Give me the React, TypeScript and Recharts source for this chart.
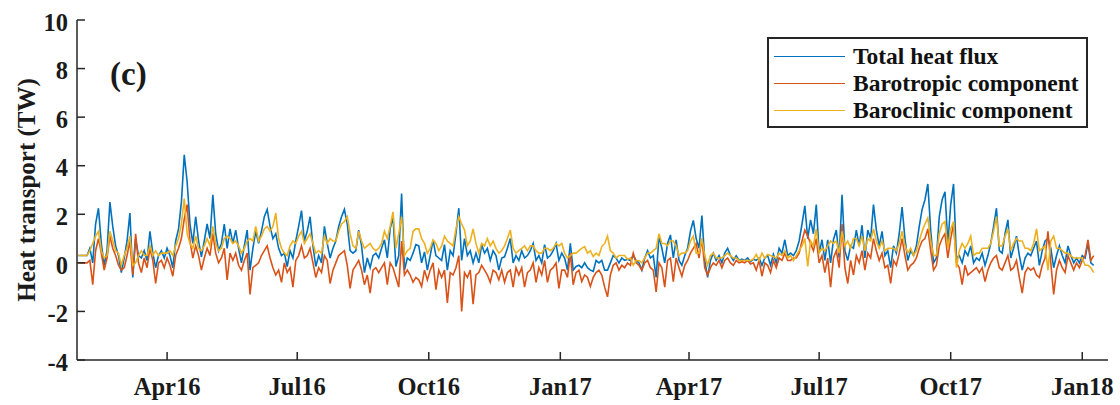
import React from 'react';
import { LineChart, Line, XAxis, YAxis } from 'recharts';

// Day numbers are counted from 1 Apr 2016; samples every 2 days starting 30 Jan 2016
const START_DAY = -62;
const STEP_DAYS = 2;

const totalHeatFlux = [
  0.3, 0.3, 0.3, 0.3, 0.6, 0.0, 1.6, 2.25, 0.8, -0.1,
  0.5, 2.5, 1.5, 0.7, 0.3, -0.4, 0.2, 0.9, 2.05, -0.6,
  1.0, 0.3, 0.2, 0.5, 0.1, 1.3, 0.4, -0.2, 0.3, 0.5,
  0.2, 0.6, 0.3, -0.2, 0.9, 1.4, 2.5, 4.45, 3.35, 1.6,
  0.8, 1.9, 0.9, 0.25, 0.9, 1.6, 1.0, 2.8, 1.2, 0.5,
  0.8, 1.6, 0.6, 1.4, 0.8, 1.35, 0.6, 0.0, 0.7, 1.35,
  -0.3, 0.6, 1.3, 0.8, 1.3, 1.9, 2.2, 1.5, 1.0, 1.2,
  0.6, 0.3, 0.4, -0.15, 0.5, 0.2, 0.9, 1.5, 2.15, 0.9,
  1.3, 1.9, 0.7, -0.15, 0.3, 0.0, 1.5, 0.8, 0.2, 0.6,
  0.9, 1.5, 1.9, 2.2, 1.6, 0.5, 0.4, 0.5, 1.35, 0.7,
  -0.4, 0.2, -0.2, 0.3, 0.4, 0.2, 0.6, 0.95, 0.2, 1.4,
  1.9, -0.15, 0.3, 2.85, -0.3, 0.2, 0.1, 0.4, 0.75, 0.7,
  0.0, 0.45, -0.3, 0.3, 0.95, 0.3, 0.2, 0.1, 0.75, -0.3,
  0.5, 0.3, 1.2, 2.25, 0.1, 1.0, 0.3, 0.5, 0.0, 0.4,
  0.0, 0.75, 0.4, 0.6, 0.1, 0.5, 0.3, -0.3, 0.2, 0.25,
  0.6, 1.0, 0.0, 0.3, 0.1, 0.5, 0.2, 0.3, 0.5, 0.8,
  0.1, 0.3, 0.0, 0.75, 0.2, 0.3, 0.5, 0.8, 0.1, 0.4,
  0.2, -0.3, 0.8, -0.3, -0.15, -0.1, -0.2, 0.0, -0.2, -0.3,
  -0.35, 0.1, 0.0, 0.1, -0.3, -0.3, 0.0, 0.3, 0.2, 0.0,
  0.2, 0.1, 0.15, 0.1, 0.3, 0.1, 0.0, -0.3, 0.2, 0.5,
  0.2, 0.3, -0.6, 1.1, 0.6, 0.0, 0.8, 1.15, 0.2, 0.95,
  0.1, -0.1, 0.3, 0.6, 1.3, 1.75, 1.0, 0.6, 1.95, 0.1,
  -0.6, 0.1, 0.4, 0.1, 0.3, 0.0, 0.4, 0.6, 0.3, 0.1,
  0.29, 0.1, 0.15, 0.1, 0.2, 0.05, 0.15, 0.1, 0.2, -0.1,
  0.2, 0.3, -0.1, 0.35, 0.0, 0.6, 0.4, 0.95, 0.3, 0.4,
  0.3, 0.5, 0.9, 1.6, 2.35, 1.0, 1.77, 1.2, 2.4, 0.4,
  0.95, 0.1, 0.95, 0.0, 0.95, 1.35, 0.2, 2.8, 0.5, 0.1,
  0.7, 0.6, 1.35, 0.7, 1.55, 0.2, 1.35, 1.0, 2.4, 1.35,
  0.7, 1.3, 0.3, 0.5, -0.2, 0.7, 0.4, 1.2, 2.3, 1.0,
  0.1, 0.5, 0.3, 0.7, 1.5, 2.2, 2.6, 3.25, 1.35, 0.0,
  0.2, 1.9, 2.6, 2.93, 0.8, 2.4, 3.25, 0.2, 0.3, 0.0,
  0.5, 0.3, 0.7, 0.0, 0.2, 0.1, 0.4, -0.1, 0.3, 0.8,
  1.5, 2.25, 0.5, 0.4, 1.2, 1.77, 0.2, 0.6, 1.1, 0.3,
  -0.3, 0.2, 0.4, 0.3, 0.6, 0.9, -0.1, 0.5, 0.9, 1.0,
  0.6, -0.2, 0.3, 0.7, 0.3, 0.0, 0.7, 0.3, 0.0, 0.2,
  0.0, 0.3, 0.2, 0.8, 0.0, -0.1,
];

const barotropic = [
  0.0, 0.0, 0.0, 0.0, 0.1, -0.9, 0.5, 1.0, 0.4, -0.3,
  0.2, 1.1, 0.6, 0.3, -0.1, -0.3, -0.2, 0.3, 0.9, -0.5,
  1.2, 0.0, -0.4, 0.2, -0.2, 0.6, 0.1, -0.85, 0.0, 0.1,
  -0.2, 0.2, -0.1, -0.55, 0.3, 0.6, 1.0, 1.8, 2.4, 0.9,
  0.2, 0.7, 0.3, -0.3, 0.2, 0.6, 0.3, 1.2, 0.4, 0.0,
  0.2, 0.6, -0.7, 0.4, 0.1, 0.4, -0.1, -0.3, 0.1, 0.4,
  -1.3, -0.2, -0.1, 0.0, 0.3, 0.5, 0.7, 0.2, -0.2, -0.5,
  -0.3, -0.8, 0.0, -0.4, -0.2, -1.0, 0.1, 0.3, 0.7, 0.2,
  0.3, 0.6, 0.0, -0.6, -0.2, -0.4, 0.3, 0.1, -0.85, -0.3,
  0.0, 0.3, 0.4, 0.5, -0.1, -1.05, -0.3, -0.1, 0.1, -0.3,
  -0.9, -0.5, -1.25, -0.3, -0.2, -0.4, -0.2, 0.0, -0.9, 0.0,
  -0.2, -0.6, -1.0, 0.9, -0.5, -0.3, -0.5, -0.8, -0.6, -0.7,
  -0.97, -0.3, -0.7, -0.3, 0.0, -1.1, -0.3, -0.6, -0.3, -1.65,
  -0.4, -0.5, -0.2, 0.3, -2.0, -0.4, -0.6, -0.3, -1.7, -0.5,
  -0.4, -0.1, -0.3, -0.5, -0.8, -0.3, -0.4, -0.7, -0.3, -0.8,
  -0.4, -0.3, -1.0, -0.2, -0.5, -0.2, -1.0, -0.4, -0.3, 0.0,
  -0.8, -0.2, -0.5, 0.1, -0.8, -0.3, -0.2, 0.0, -1.05, -0.3,
  -0.3, -0.6, 0.4, -0.9, -0.4, -0.3, -0.77, -0.5, -0.6, -0.97,
  -0.6, -0.4, -0.3, -0.5, -1.0, -1.4, -0.5, -0.1, 0.0, -0.3,
  -0.1, -0.2, 0.0, -0.1, 0.4, 0.0, -0.1, -0.3, 0.0, 0.1,
  -0.2, -0.3, -1.2, 0.0, -0.2, -1.0, 0.1, 0.2, -0.77, 0.2,
  -0.2, -0.55, -0.1, 0.1, 0.4, 0.6, 0.8, 0.2, 1.0, -0.2,
  -0.5, -0.2, 0.0, -0.1, 0.1, -0.2, 0.1, 0.2, 0.0, -0.1,
  0.1, 0.0, 0.05, 0.0, 0.1, -0.05, 0.0, -0.3, 0.1, -0.55,
  0.0, -0.1, -0.4, 0.1, -0.2, 0.2, 0.1, 0.4, 0.1, 0.1,
  0.2, 0.2, 0.4, 0.9, 1.35, 1.1, 0.8, 0.5, 1.0, 0.0,
  0.3, -0.4, 0.2, -1.0, 0.2, 0.5, -0.2, 1.6, -0.2, -0.85,
  0.1, -0.5, 0.3, 0.0, 0.5, -0.3, 0.4, 0.2, 1.0, 0.5,
  0.1, 0.4, -0.2, -0.1, -0.85, 0.1, -0.1, 0.4, 1.0, 0.3,
  -0.3, -0.1, 0.0, 0.2, 0.6, 0.9, 1.0, 1.4, 0.5, -0.3,
  -0.1, 0.7, 1.0, 1.2, 0.2, 1.0, 1.6, 0.0, -0.2, -0.9,
  -0.1, -0.5, -0.4, -0.3, -0.2, -0.4, -0.2, -0.77, -0.3, 0.0,
  0.2, 0.3, -0.2, -0.3, 0.0, 0.3, -0.3, -0.2, 0.1, -0.6,
  -1.25, -0.4, -0.2, -0.3, -0.2, -0.5, -0.6, -0.1, 0.2, 1.3,
  0.0, -1.3, -0.3, 0.1, -0.2, -0.4, 0.3, 0.0, -0.3, 0.0,
  -0.2, 0.1, 0.3, 0.95, 0.1, 0.3,
];

const baroclinic = [
  0.3, 0.3, 0.3, 0.3, 0.5, 0.8, 1.1, 1.3, 0.5, 0.2,
  0.3, 1.3, 0.9, 0.5, 0.4, -0.1, 0.3, 0.6, 1.1, -0.1,
  0.0, 0.3, 0.5, 0.3, 0.3, 0.7, 0.3, 0.5, 0.3, 0.4,
  0.4, 0.4, 0.5, 0.3, 0.7, 1.0, 1.6, 2.65, 1.2, 0.8,
  0.6, 1.1, 0.6, 0.5, 0.7, 1.0, 0.7, 1.5, 0.8, 0.5,
  0.6, 1.0, 1.1, 1.0, 0.8, 0.9, 0.7, 0.4, 0.6, 0.9,
  1.0, 0.9, 1.5, 0.9, 1.1, 1.4, 1.5, 1.3, 1.5, 2.05,
  1.0, 0.6, 0.4, 0.3, 0.7, 0.9, 0.8, 1.1, 1.3, 0.8,
  1.0, 1.2, 0.8, 0.4, 0.5, 0.4, 1.1, 0.8, 1.0, 0.9,
  0.9, 1.3, 1.6, 1.7, 1.9, 1.2, 0.7, 0.6, 1.3, 0.9,
  0.6, 0.7, 0.8, 0.6, 0.5, 0.6, 0.8, 1.3, 1.0, 1.5,
  2.1, 0.6, 1.2, 1.9, 0.3, 0.5, 0.6, 1.3, 1.4, 1.4,
  1.0, 0.8, 0.4, 0.6, 0.95, 0.8, 0.5, 0.7, 1.1, 0.9,
  0.8, 0.7, 1.4, 1.9, 1.6, 1.35, 0.7, 0.9, 1.4, 0.8,
  0.4, 0.8, 0.7, 1.0, 0.7, 0.9, 0.6, 0.4, 0.5, 0.7,
  1.0, 1.35, 0.6, 0.4, 0.5, 0.6, 0.7, 0.5, 0.7, 0.7,
  0.5, 0.4, 0.4, 0.6, 0.6, 0.5, 0.6, 0.8, 0.7, 0.8,
  0.4, 0.2, 0.3, 0.4, 0.4, 0.5, 0.6, 0.67, 0.4, 0.5,
  0.26, 0.4, 0.3, 0.67, 0.8, 1.1, 0.5, 0.4, 0.2, 0.3,
  0.3, 0.3, 0.15, 0.2, -0.1, 0.1, 0.1, 0.0, 0.2, 0.4,
  0.4, 0.5, 0.6, 1.2, 0.8, 0.8, 0.7, 0.9, 0.9, 0.7,
  0.3, 0.4, 0.4, 0.5, 0.9, 1.1, 0.4, 0.4, 1.0, 0.3,
  -0.1, 0.3, 0.4, 0.2, 0.2, 0.2, 0.3, 0.4, 0.3, 0.2,
  0.2, 0.1, 0.1, 0.1, 0.1, 0.1, 0.15, 0.35, 0.1, 0.4,
  0.2, 0.35, 0.3, 0.25, 0.2, 0.4, 0.3, 0.5, 0.2, 0.3,
  0.1, 0.3, 0.5, 0.7, 1.0, -0.15, 0.9, 0.7, 1.4, 0.4,
  0.6, 0.5, 0.7, 0.9, 0.8, 0.9, 0.4, 1.3, 0.7, 0.9,
  0.6, 1.0, 1.0, 0.7, 1.1, 0.5, 1.0, 0.9, 1.4, 0.9,
  0.6, 0.9, 0.5, 0.6, 0.6, 0.6, 0.5, 0.8, 1.3, 0.7,
  0.4, 0.6, 0.3, 0.5, 0.9, 1.3, 1.6, 1.85, 0.9, 0.3,
  0.3, 1.2, 1.6, 1.7, 0.6, 1.4, 1.7, -0.2, 0.5, 0.8,
  0.6, 0.8, 1.1, 0.3, 0.4, 0.4, 0.6, 0.6, 0.6, 0.8,
  1.3, 1.9, 0.7, 0.7, 1.1, 1.4, 0.5, 0.8, 1.0, 0.9,
  0.9, 0.6, 0.6, 0.5, 0.8, 1.4, 0.5, 0.6, 0.7, -0.3,
  0.9, 1.1, 0.6, 0.6, 0.5, 0.4, 0.4, 0.3, 0.2, 0.2,
  0.2, 0.2, -0.1, -0.1, -0.2, -0.4,
];

const tickDays = [0, 91, 183, 275, 365, 456, 548, 640];
const tickLabels = ['Apr16', 'Jul16', 'Oct16', 'Jan17', 'Apr17', 'Jul17', 'Oct17', 'Jan18'];
const yTicks = [-4, -2, 0, 2, 4, 6, 8, 10];
const xDomain = [-63, 658];
const yDomain = [-4, 10];

const seriesKeys = ['total', 'barotropic', 'baroclinic'];
const seriesNames = ['Total heat flux', 'Barotropic component', 'Baroclinic component'];
const seriesColors = ['#0072BD', '#D95319', '#EDB120'];

const data = totalHeatFlux.map((v, i) => ({
  day: START_DAY + STEP_DAYS * i,
  total: v,
  barotropic: barotropic[i],
  baroclinic: baroclinic[i],
}));

const FONT = '"Liberation Serif", "Times New Roman", serif';
const AXIS = '#262626';

const fmtX = (v: number) => {
  const idx = tickDays.indexOf(v);
  return idx >= 0 ? tickLabels[idx] : '';
};
const blank = () => '';

export default function App() {
  const tickStyle = { fill: '#1a1a1a', fontSize: 24.5, fontWeight: 'bold', fontFamily: FONT };
  const lineStyle = { stroke: AXIS, strokeWidth: 1.5 };
  return (
    <div style={{ position: 'absolute', left: 0, top: 0, width: 1120, height: 405, background: '#fff' }}>
      <LineChart width={1120} height={405} data={data} margin={{ top: 20, right: 12, bottom: 0, left: 17 }}>
        <XAxis
          xAxisId="b"
          dataKey="day"
          type="number"
          domain={xDomain}
          allowDataOverflow
          ticks={tickDays}
          interval={0}
          tickFormatter={fmtX}
          height={45}
          tickSize={-8}
          tickMargin={26}
          axisLine={lineStyle}
          tickLine={lineStyle}
          tick={tickStyle}
        />
        <XAxis
          xAxisId="t"
          orientation="top"
          dataKey="day"
          type="number"
          domain={xDomain}
          allowDataOverflow
          ticks={tickDays}
          interval={0}
          tickFormatter={blank}
          height={0}
          tickSize={-8}
          axisLine={lineStyle}
          tickLine={lineStyle}
        />
        <YAxis
          yAxisId="l"
          type="number"
          domain={yDomain}
          allowDataOverflow
          ticks={yTicks}
          interval={0}
          width={60}
          tickSize={-8}
          tickMargin={17}
          axisLine={lineStyle}
          tickLine={lineStyle}
          tick={{ ...tickStyle, dy: 2 }}
        />
        <YAxis
          yAxisId="r"
          orientation="right"
          type="number"
          domain={yDomain}
          allowDataOverflow
          ticks={yTicks}
          interval={0}
          width={0}
          tickSize={-8}
          tickFormatter={blank}
          axisLine={lineStyle}
          tickLine={lineStyle}
        />
        {seriesKeys.map((k, i) => (
          <Line
            key={k}
            xAxisId="b"
            yAxisId="l"
            type="linear"
            dataKey={k}
            name={seriesNames[i]}
            stroke={seriesColors[i]}
            strokeWidth={1.6}
            dot={false}
            activeDot={false}
            isAnimationActive={false}
          />
        ))}
      </LineChart>

      <div
        style={{
          position: 'absolute',
          left: 26,
          top: 190,
          transform: 'translate(-50%, -50%) rotate(-90deg)',
          whiteSpace: 'nowrap',
          fontFamily: FONT,
          fontWeight: 'bold',
          fontSize: 25,
          color: '#1a1a1a',
          lineHeight: 1,
        }}
      >
        Heat transport (TW)
      </div>

      <div
        style={{
          position: 'absolute',
          left: 110,
          top: 58,
          fontFamily: FONT,
          fontWeight: 'bold',
          fontSize: 33,
          color: '#1a1a1a',
          lineHeight: 1,
        }}
      >
        (c)
      </div>

      <div
        style={{
          position: 'absolute',
          left: 767,
          top: 37,
          width: 321,
          height: 91,
          boxSizing: 'border-box',
          border: `2px solid ${AXIS}`,
          background: '#fff',
        }}
      >
        {seriesNames.map((n, i) => (
          <div
            key={n}
            style={{
              position: 'absolute',
              left: 5,
              top: 4 + i * 27,
              height: 27,
              display: 'flex',
              alignItems: 'center',
              whiteSpace: 'nowrap',
            }}
          >
            <div style={{ width: 71, height: 1.5, background: seriesColors[i] }} />
            <span
              style={{
                marginLeft: 8,
                fontFamily: FONT,
                fontWeight: 'bold',
                fontSize: 23.5,
                color: '#111',
                lineHeight: 1,
              }}
            >
              {n}
            </span>
          </div>
        ))}
      </div>
    </div>
  );
}
